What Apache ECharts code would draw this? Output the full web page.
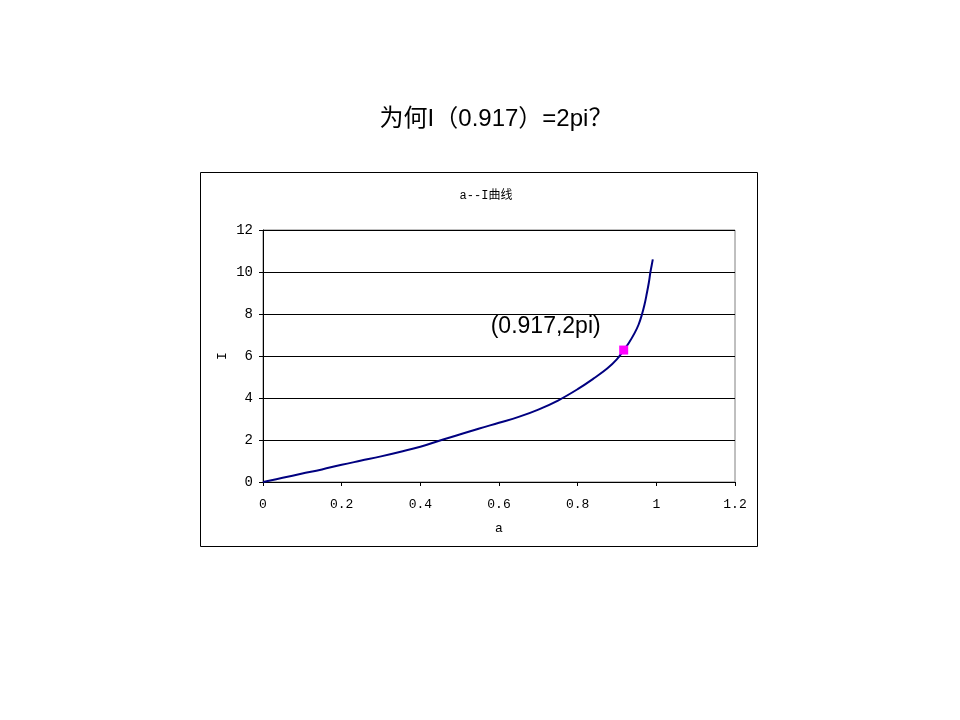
<!DOCTYPE html>
<html>
<head>
<meta charset="utf-8">
<script src="https://cdn.jsdelivr.net/npm/echarts@6/dist/echarts.min.js"></script>
<style>
html,body{margin:0;padding:0;background:#fff;}
#c{width:960px;height:720px;}
</style>
</head>
<body>
<div id="c"></div>
<script>
// Data
var aValues = [0, 0.05, 0.1, 0.15, 0.2, 0.25, 0.3, 0.35, 0.4, 0.45, 0.5, 0.55, 0.6, 0.65, 0.7, 0.75, 0.8, 0.84, 0.875, 0.9, 0.917, 0.93, 0.945, 0.955, 0.963, 0.97, 0.976, 0.981, 0.985, 0.988, 0.991];
var IValues = [0, 0.2, 0.4, 0.6, 0.82, 1.02, 1.22, 1.44, 1.68, 1.98, 2.26, 2.55, 2.82, 3.1, 3.45, 3.88, 4.42, 4.92, 5.4, 5.85, 6.28, 6.62, 7.1, 7.5, 7.95, 8.45, 9.0, 9.5, 10.0, 10.3, 10.6];
var highlightPoint = [0.917, 2 * Math.PI];
var highlightLabel = '(0.917,2pi)';
var pageTitle = '为何I（0.917）=2pi？';
var chartTitle = 'a--I曲线';
var xName = 'a';
var yName = 'I';

var curve = aValues.map(function (a, i) { return [a, IValues[i]]; });

var chart = echarts.init(document.getElementById('c'));
chart.setOption({
  backgroundColor: '#ffffff',
  animation: false,
  title: [
    {
      text: pageTitle,
      left: 491, top: 102, textAlign: 'center',
      textStyle: { fontFamily: 'Liberation Sans, Noto Sans CJK SC', fontSize: 24, fontWeight: 'normal', color: '#000' }
    },
    {
      text: chartTitle,
      left: 481, top: 185, textAlign: 'center',
      textStyle: { fontFamily: 'Liberation Mono, Noto Sans CJK SC', fontSize: 12, fontWeight: 'normal', color: '#000' }
    }
  ],
  graphic: [
    {
      type: 'rect', z: -1,
      shape: { x: 200.5, y: 172.5, width: 557, height: 374 },
      style: { fill: '#fff', stroke: '#000', lineWidth: 1 }
    }
  ],
  grid: {
    left: 263, right: 225, top: 230, bottom: 238,
    show: true, borderColor: '#808080', borderWidth: 1, backgroundColor: '#fff'
  },
  xAxis: {
    type: 'value', min: 0, max: 1.2, interval: 0.2,
    name: xName, nameLocation: 'middle', nameGap: 40,
    nameTextStyle: { fontFamily: 'Liberation Mono', fontSize: 13, color: '#000' },
    axisLine: { show: true, lineStyle: { color: '#000', width: 1 } },
    axisTick: { show: true, inside: false, length: 4, lineStyle: { color: '#000' } },
    axisLabel: { fontFamily: 'Liberation Mono', fontSize: 13, color: '#000', margin: 16 },
    splitLine: { show: false }
  },
  yAxis: {
    type: 'value', min: 0, max: 12, interval: 2,
    name: yName, nameLocation: 'middle', nameGap: 34, nameRotate: 90,
    nameTextStyle: { fontFamily: 'Liberation Mono', fontSize: 13, color: '#000' },
    axisLine: { show: true, lineStyle: { color: '#000', width: 1 } },
    axisTick: { show: true, inside: false, length: 4, lineStyle: { color: '#000' } },
    axisLabel: { fontFamily: 'Liberation Mono', fontSize: 14, color: '#000', margin: 10 },
    splitLine: { show: true, lineStyle: { color: '#000', width: 1 } }
  },
  series: [
    {
      type: 'line',
      data: curve,
      smooth: 0.4,
      showSymbol: false,
      lineStyle: { color: '#000080', width: 2 },
      z: 3
    },
    {
      type: 'scatter',
      data: [highlightPoint],
      symbol: 'rect',
      symbolSize: 9,
      itemStyle: { color: '#ff00ff', opacity: 1 },
      z: 4,
      label: {
        show: true,
        formatter: highlightLabel,
        position: 'top',
        distance: 4,
        offset: [-78, -3],
        fontFamily: 'Liberation Sans',
        fontSize: 23,
        color: '#000000',
        opacity: 1,
        textBorderWidth: 0
      }
    }
  ]
});
</script>
</body>
</html>
